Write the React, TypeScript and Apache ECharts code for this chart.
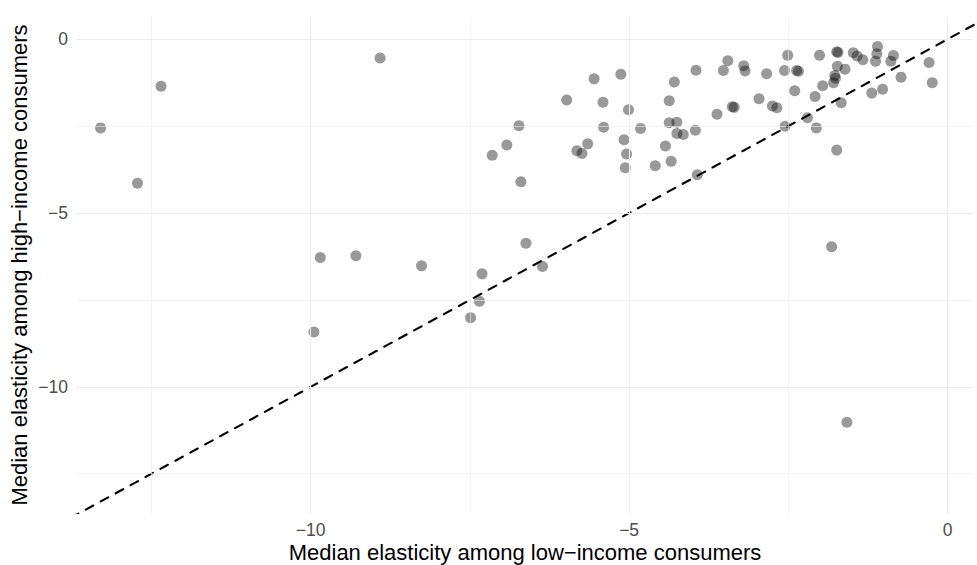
import React, { useEffect, useRef } from "react";
import * as echarts from "echarts";

// Median elasticity among low-income consumers (x)
const lowIncome: number[] = [
  -12.35, -13.3, -12.72, -8.91, -9.85, -9.29, -8.26, -9.95, -6.62, -7.31,
  -6.36, -7.35, -7.49, -1.58, -1.74, -1.82, -7.15, -6.92, -6.73, -6.7,
  -5.98, -5.55, -5.13, -5.41, -5.01, -5.4, -5.65, -5.82, -5.74, -5.08,
  -5.04, -5.06, -4.82, -4.59, -4.34, -4.43, -4.37, -4.29, -4.37, -4.25,
  -4.25, -4.15, -3.96, -3.95, -3.93, -3.62, -3.52, -3.45, -3.38, -3.35,
  -3.2, -3.18, -2.96, -2.84, -2.75, -2.68, -2.56, -2.51, -2.55, -2.4,
  -2.37, -2.34, -2.2, -2.08, -2.06, -2.01, -1.96, -1.79, -1.77, -1.76,
  -1.73, -1.74, -1.72, -1.67, -1.61, -1.48, -1.42, -1.33, -1.19, -1.1,
  -1.11, -1.13, -1.02, -0.89, -0.85, -0.73, -0.29, -0.24,
];

// Median elasticity among high-income consumers (y)
const highIncome: number[] = [
  -1.35, -2.55, -4.14, -0.54, -6.28, -6.23, -6.52, -8.42, -5.87, -6.75,
  -6.54, -7.54, -8.01, -11.02, -3.19, -5.97, -3.34, -3.04, -2.49, -4.1,
  -1.75, -1.14, -1.01, -1.81, -2.03, -2.53, -3.01, -3.21, -3.29, -2.89,
  -3.3, -3.7, -2.57, -3.64, -3.51, -3.07, -1.77, -1.23, -2.4, -2.39,
  -2.71, -2.74, -2.62, -0.89, -3.9, -2.16, -0.9, -0.62, -1.94, -1.96,
  -0.76, -0.91, -1.71, -0.99, -1.92, -1.97, -0.9, -0.46, -2.5, -1.48,
  -0.9, -0.92, -2.26, -1.65, -2.55, -0.46, -1.34, -1.25, -1.04, -1.12,
  -0.78, -0.36, -0.38, -1.83, -0.86, -0.39, -0.48, -0.59, -1.55, -0.21,
  -0.42, -0.63, -1.44, -0.63, -0.47, -1.09, -0.67, -1.25,
];

const xMajorTicks: number[] = [-10, -5, 0];
const xMinorTicks: number[] = [-12.5, -7.5, -2.5];
const yMajorTicks: number[] = [-10, -5, 0];
const yMinorTicks: number[] = [-12.5, -7.5, -2.5];

const xRange: number[] = [-13.67, 0.4];
const yRange: number[] = [-13.63, 0.64];

const xTitle = "Median elasticity among low\u2212income consumers";
const yTitle = "Median elasticity among high\u2212income consumers";

const FONT = "Liberation Sans, Arial, Helvetica, sans-serif";

const fmt = (v: number) => (v < 0 ? "\u2212" + Math.abs(v) : String(v));

export default function App() {
  const ref = useRef<HTMLDivElement>(null);

  useEffect(() => {
    document.body.style.margin = "0";
    if (!ref.current) return;
    const chart = echarts.init(ref.current, undefined, { renderer: "svg" });

    const points = lowIncome.map((x, i) => [x, highIncome[i]]);

    const gridLines: any[] = [
      ...xMinorTicks.map((v) => ({ xAxis: v, lineStyle: { width: 0.6 } })),
      ...yMinorTicks.map((v) => ({ yAxis: v, lineStyle: { width: 0.6 } })),
      ...xMajorTicks.map((v) => ({ xAxis: v, lineStyle: { width: 1.1 } })),
      ...yMajorTicks.map((v) => ({ yAxis: v, lineStyle: { width: 1.1 } })),
    ];

    chart.setOption({
      animation: false,
      backgroundColor: "#ffffff",
      grid: {
        left: 77,
        right: 4,
        top: 17,
        bottom: 52,
        containLabel: false,
        outerBoundsMode: "none",
      },
      xAxis: {
        type: "value",
        min: xRange[0],
        max: xRange[1],
        name: xTitle,
        nameLocation: "middle",
        nameGap: 28,
        nameMoveOverlap: false,
        nameTextStyle: { fontFamily: FONT, fontSize: 22, color: "#000000" },
        axisLine: { show: false },
        axisTick: { show: false },
        splitLine: { show: false },
        axisLabel: {
          customValues: xMajorTicks,
          formatter: fmt,
          fontFamily: FONT,
          fontSize: 17.5,
          color: "#4D4D4D",
          margin: 8,
        },
      },
      yAxis: {
        type: "value",
        min: yRange[0],
        max: yRange[1],
        name: yTitle,
        nameLocation: "middle",
        nameGap: 47,
        nameMoveOverlap: false,
        nameTextStyle: { fontFamily: FONT, fontSize: 22, color: "#000000" },
        axisLine: { show: false },
        axisTick: { show: false },
        splitLine: { show: false },
        axisLabel: {
          customValues: yMajorTicks,
          formatter: fmt,
          fontFamily: FONT,
          fontSize: 17.5,
          color: "#4D4D4D",
          margin: 9,
        },
      },
      series: [
        {
          type: "scatter",
          data: [],
          silent: true,
          z: 0,
          markLine: {
            silent: true,
            symbol: "none",
            label: { show: false },
            lineStyle: { color: "#EBEBEB", type: "solid" },
            data: gridLines,
          },
        },
        {
          type: "scatter",
          data: points,
          symbol: "circle",
          symbolSize: 11,
          itemStyle: { color: "rgba(0,0,0,0.5)" },
          z: 3,
        },
        {
          type: "line",
          data: [
            [-14, -14],
            [1, 1],
          ],
          symbol: "none",
          clip: true,
          silent: true,
          lineStyle: { color: "#000000", width: 2.1, type: [8.5, 8.5], cap: "round" },
          z: 4,
        },
      ],
    });

    return () => chart.dispose();
  }, []);

  return <div ref={ref} style={{ width: 977, height: 565 }} />;
}
